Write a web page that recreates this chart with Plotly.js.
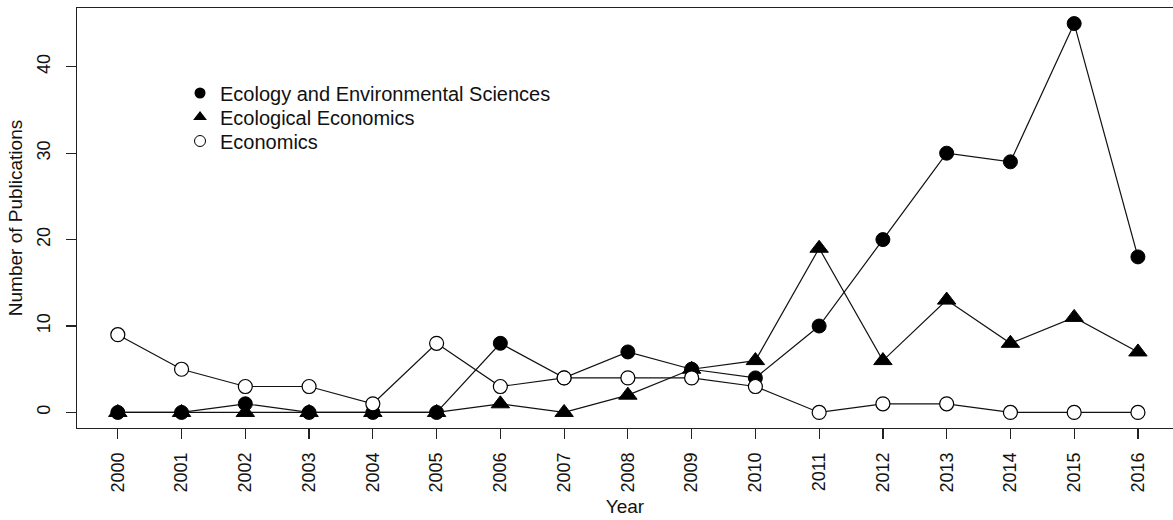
<!DOCTYPE html>
<html>
<head>
<meta charset="utf-8">
<script src="https://cdn.plot.ly/plotly-3.0.1.min.js"></script>
<style>
  html, body { margin: 0; padding: 0; background: #fff; }
  #chart { width: 1173px; height: 520px; }
</style>
</head>
<body>
<div id="chart"></div>
<script>
const years = [2000, 2001, 2002, 2003, 2004, 2005, 2006, 2007, 2008, 2009, 2010, 2011, 2012, 2013, 2014, 2015, 2016];
const ecologyEnv = [0, 0, 1, 0, 0, 0, 8, 4, 7, 5, 4, 10, 20, 30, 29, 45, 18];
const ecologicalEcon = [0, 0, 0, 0, 0, 0, 1, 0, 2, 5, 6, 19, 6, 13, 8, 11, 7];
const economics = [9, 5, 3, 3, 1, 8, 3, 4, 4, 4, 3, 0, 1, 1, 0, 0, 0];
const seriesNames = ["Ecology and Environmental Sciences", "Ecological Economics", "Economics"];
const yTicks = [0, 10, 20, 30, 40];

const FONT = "Liberation Sans, Arial, Helvetica, sans-serif";
const lineStyle = { color: "#111", width: 1.2 };

const traces = [
  { x: years, y: ecologyEnv, mode: "lines+markers", showlegend: false,
    line: lineStyle, marker: { symbol: "circle", size: 14, color: "#000", line: { color: "#000", width: 1 } } },
  { x: years, y: ecologicalEcon, mode: "lines+markers", showlegend: false,
    line: lineStyle, marker: { symbol: "triangle-up", size: 16, color: "#000", line: { color: "#000", width: 1 } } },
  { x: years, y: economics, mode: "lines+markers", showlegend: false,
    line: lineStyle, marker: { symbol: "circle", size: 14, color: "#fff", line: { color: "#000", width: 1.2 } } },
  // legend-only entries (markers only, as in the reference)
  { x: [null], y: [null], mode: "markers", name: seriesNames[0], legend: "legend",
    marker: { symbol: "circle", size: 11, color: "#000" } },
  { x: [null], y: [null], mode: "markers", name: seriesNames[1], legend: "legend2",
    marker: { symbol: "triangle-up", size: 12, color: "#000" } },
  { x: [null], y: [null], mode: "markers", name: seriesNames[2], legend: "legend3",
    marker: { symbol: "circle", size: 11, color: "#fff", line: { color: "#000", width: 1 } } }
];

function legendAt(y) {
  return {
    x: 0.094, y: y, xanchor: "left", yanchor: "middle",
    bgcolor: "rgba(0,0,0,0)", borderwidth: 0,
    font: { family: FONT, size: 20, color: "#111" },
    itemwidth: 30
  };
}

const layout = {
  width: 1173, height: 520,
  margin: { l: 77, r: 0, t: 8, b: 92 },
  paper_bgcolor: "#fff", plot_bgcolor: "#fff",
  font: { family: FONT, size: 18, color: "#111" },
  xaxis: {
    range: [1999.36, 2016.55],
    tickvals: years, ticktext: years.map(String),
    tickangle: -90,
    ticks: "outside", ticklen: 10, tickwidth: 1.2, tickcolor: "#222",
    ticklabelstandoff: 6,
    showline: true, mirror: true, linecolor: "#222", linewidth: 1.3,
    showgrid: false, zeroline: false,
    tickfont: { family: FONT, size: 18, color: "#111" },
    title: { text: "Year", font: { family: FONT, size: 19, color: "#111" }, standoff: 8 }
  },
  yaxis: {
    range: [-1.8, 46.8],
    tickvals: yTicks, ticktext: yTicks.map(String),
    tickangle: -90,
    ticks: "outside", ticklen: 10, tickwidth: 1.2, tickcolor: "#222",
    ticklabelstandoff: 9,
    showline: true, mirror: false, linecolor: "#222", linewidth: 1.3,
    showgrid: false, zeroline: false,
    tickfont: { family: FONT, size: 18, color: "#111" },
    title: { text: "Number of Publications", font: { family: FONT, size: 19, color: "#111" }, standoff: 6 }
  },
  legend: legendAt(0.7976),
  legend2: legendAt(0.7405),
  legend3: legendAt(0.6833),
  showlegend: true
};

Plotly.newPlot("chart", traces, layout, { displayModeBar: false, staticPlot: true });
</script>
</body>
</html>
